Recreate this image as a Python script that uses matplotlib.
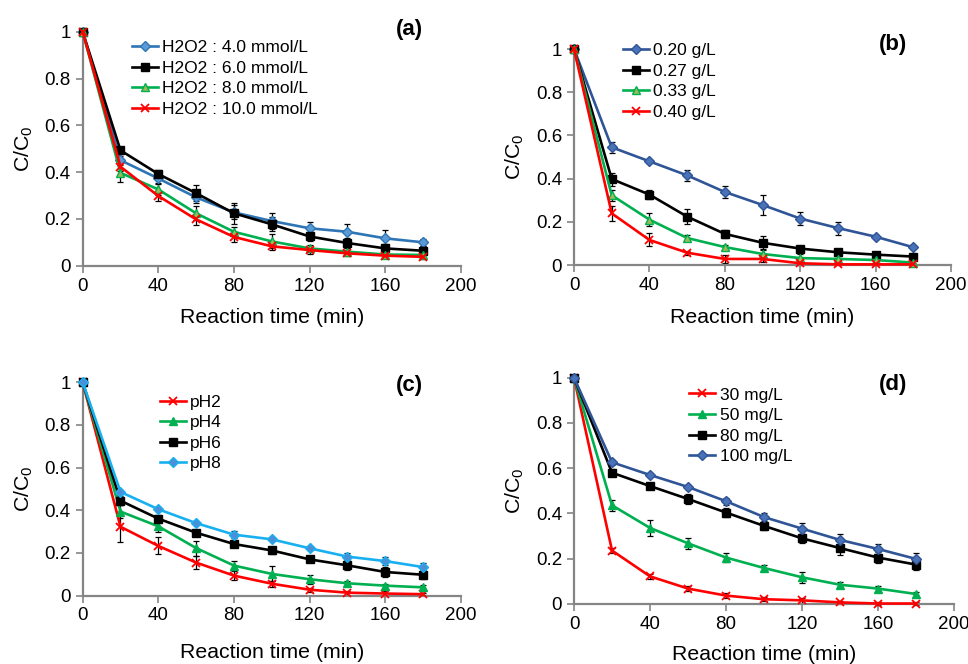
import numpy as np
import matplotlib
matplotlib.use('Agg')
import matplotlib.pyplot as plt

# ---- data ----
t = [0, 20, 40, 60, 80, 100, 120, 140, 160, 180]

# (a) H2O2 dosage
a_labels = ['H2O2 : 4.0 mmol/L', 'H2O2 : 6.0 mmol/L', 'H2O2 : 8.0 mmol/L', 'H2O2 : 10.0 mmol/L']
a_h4 = [1, 0.451, 0.373, 0.292, 0.228, 0.191, 0.160, 0.145, 0.117, 0.100]
a_h6 = [1, 0.493, 0.392, 0.310, 0.224, 0.177, 0.125, 0.097, 0.074, 0.064]
a_h8 = [1, 0.397, 0.326, 0.224, 0.145, 0.104, 0.074, 0.060, 0.048, 0.046]
a_h10 = [1, 0.423, 0.298, 0.198, 0.123, 0.083, 0.067, 0.053, 0.043, 0.038]
a_e4 = [0, 0.02, 0.02, 0.025, 0.03, 0.035, 0.025, 0.035, 0.035, 0.015]
a_e6 = [0, 0.015, 0.015, 0.035, 0.045, 0.03, 0.02, 0.02, 0.02, 0.02]
a_e8 = [0, 0.04, 0.025, 0.03, 0.02, 0.03, 0.015, 0.015, 0.01, 0.01]
a_e10 = [0, 0.02, 0.02, 0.025, 0.02, 0.015, 0.015, 0.01, 0.01, 0.01]

# (b) catalyst dosage
b_labels = ['0.20 g/L', '0.27 g/L', '0.33 g/L', '0.40 g/L']
b_020 = [1, 0.545, 0.480, 0.415, 0.338, 0.278, 0.215, 0.171, 0.131, 0.082]
b_027 = [1, 0.398, 0.326, 0.224, 0.144, 0.103, 0.076, 0.059, 0.048, 0.039]
b_033 = [1, 0.323, 0.210, 0.125, 0.083, 0.051, 0.032, 0.028, 0.023, 0.011]
b_040 = [1, 0.239, 0.116, 0.057, 0.028, 0.028, 0.008, 0.003, 0.003, 0.003]
b_e020 = [0, 0.025, 0.01, 0.025, 0.03, 0.045, 0.03, 0.03, 0.01, 0.01]
b_e027 = [0, 0.03, 0.02, 0.035, 0.02, 0.03, 0.01, 0.01, 0.01, 0.01]
b_e033 = [0, 0.025, 0.03, 0.015, 0.01, 0.02, 0.02, 0.015, 0.015, 0.01]
b_e040 = [0, 0.035, 0.03, 0.01, 0.02, 0.015, 0.01, 0.005, 0.005, 0.005]

# (c) pH
c_labels = ['pH2', 'pH4', 'pH6', 'pH8']
c_ph2 = [1, 0.323, 0.233, 0.155, 0.094, 0.056, 0.028, 0.014, 0.010, 0.007]
c_ph4 = [1, 0.394, 0.325, 0.223, 0.141, 0.102, 0.077, 0.058, 0.047, 0.039]
c_ph6 = [1, 0.445, 0.361, 0.295, 0.242, 0.212, 0.170, 0.142, 0.111, 0.098]
c_ph8 = [1, 0.486, 0.405, 0.340, 0.286, 0.264, 0.222, 0.183, 0.162, 0.134]
c_e2 = [0, 0.07, 0.04, 0.03, 0.02, 0.015, 0.01, 0.01, 0.01, 0.005]
c_e4 = [0, 0.03, 0.025, 0.035, 0.02, 0.035, 0.02, 0.01, 0.01, 0.01]
c_e6 = [0, 0.02, 0.015, 0.015, 0.015, 0.015, 0.01, 0.02, 0.025, 0.02]
c_e8 = [0, 0.01, 0.01, 0.01, 0.015, 0.01, 0.01, 0.015, 0.02, 0.02]

# (d) initial dye concentration
d_labels = ['30 mg/L', '50 mg/L', '80 mg/L', '100 mg/L']
d_30 = [1, 0.236, 0.122, 0.068, 0.037, 0.021, 0.016, 0.007, 0.002, 0.002]
d_50 = [1, 0.436, 0.336, 0.268, 0.205, 0.159, 0.118, 0.085, 0.068, 0.044]
d_80 = [1, 0.580, 0.521, 0.464, 0.404, 0.345, 0.290, 0.247, 0.205, 0.174]
d_100 = [1, 0.626, 0.570, 0.517, 0.454, 0.384, 0.333, 0.283, 0.243, 0.199]
d_e30 = [0, 0.01, 0.01, 0.01, 0.01, 0.01, 0.01, 0.005, 0.005, 0.005]
d_e50 = [0, 0.025, 0.035, 0.025, 0.02, 0.015, 0.025, 0.012, 0.01, 0.01]
d_e80 = [0, 0.015, 0.015, 0.02, 0.02, 0.02, 0.02, 0.03, 0.025, 0.025]
d_e100 = [0, 0.01, 0.01, 0.01, 0.015, 0.02, 0.025, 0.025, 0.02, 0.025]

# ---- styles ----
plt.rcParams['font.family'] = ['Liberation Sans', 'DejaVu Sans']
axgrey = '#858585'
blue = '#2E75B6'
dblue = '#2F5597'
cyan = '#18B0F0'
green = '#00B050'
red = '#FF0000'
black = '#000000'

sty = {
    'blue':  dict(color=blue, marker='D', mfc='#5B9BD5', mec=blue, ms=5),
    'dblue': dict(color=dblue, marker='D', mfc='#4A72B8', mec=dblue, ms=5),
    'cyan':  dict(color=cyan, marker='D', mfc='#4A90D9', mec=cyan, ms=5),
    'black': dict(color=black, marker='s', mfc=black, mec=black, ms=5.5),
    'greenO': dict(color=green, marker='^', mfc='#9BBB59', mec=green, ms=6),
    'green': dict(color=green, marker='^', mfc=green, mec=green, ms=6),
    'red':   dict(color=red, marker='x', mfc=red, mec=red, ms=6, mew=1.3),
}

panels = [
    # rect, tag, tag pos, legend anchor, xlabel pad, series
    ([0.0854, 0.5998, 0.3908, 0.3524], '(a)', (0.865, 1.01), (0.13, 0.965), 10,
     [(a_h4, a_e4, 'blue', a_labels[0]), (a_h6, a_e6, 'black', a_labels[1]),
      (a_h8, a_e8, 'greenO', a_labels[2]), (a_h10, a_e10, 'red', a_labels[3])]),
    ([0.593, 0.6009, 0.3895, 0.3253], '(b)', (0.847, 1.022), (0.13, 1.027), 10,
     [(b_020, b_e020, 'dblue', b_labels[0]), (b_027, b_e027, 'black', b_labels[1]),
      (b_033, b_e033, 'greenO', b_labels[2]), (b_040, b_e040, 'red', b_labels[3])]),
    ([0.0854, 0.1029, 0.3908, 0.3214], '(c)', (0.865, 0.983), (0.204, 0.943), 13,
     [(c_ph2, c_e2, 'red', c_labels[0]), (c_ph4, c_e4, 'green', c_labels[1]),
      (c_ph6, c_e6, 'black', c_labels[2]), (c_ph8, c_e8, 'cyan', c_labels[3])]),
    ([0.593, 0.0904, 0.3926, 0.3408], '(d)', (0.840, 0.971), (0.303, 0.957), 8.5,
     [(d_30, d_e30, 'red', d_labels[0]), (d_50, d_e50, 'green', d_labels[1]),
      (d_80, d_e80, 'black', d_labels[2]), (d_100, d_e100, 'dblue', d_labels[3])]),
]

fig = plt.figure(figsize=(9.68, 6.64), dpi=100)

for rect, tag, tagpos, legpos, xpad, series in panels:
    ax = fig.add_axes(rect)
    for y, e, key, lab in series:
        s = sty[key]
        ax.errorbar(t, y, yerr=e, fmt='none', ecolor=black, elinewidth=0.9,
                    capsize=2.5, capthick=0.9, clip_on=False, zorder=2)
        ax.plot(t, y, lw=1.9, label=lab, clip_on=False, zorder=3, **s)
    ax.set_xlim(0, 200)
    ax.set_ylim(0, 1)
    ax.set_xticks(np.arange(0, 201, 40))
    ax.set_yticks(np.arange(0, 1.01, 0.2))
    ax.set_yticklabels(['0', '0.2', '0.4', '0.6', '0.8', '1'])
    ax.spines['top'].set_visible(False)
    ax.spines['right'].set_visible(False)
    for sp in ['left', 'bottom']:
        ax.spines[sp].set_color(axgrey)
        ax.spines[sp].set_linewidth(1.6)
    ax.tick_params(axis='both', colors=axgrey, labelcolor='black', labelsize=13.5,
                   width=1.2, length=5, direction='out')
    ax.set_xlabel('Reaction time (min)', fontsize=15.3, labelpad=xpad)
    ax.set_ylabel(r'C/C$_{\mathregular{0}}$', fontsize=15.3, labelpad=7)
    ax.text(tagpos[0], tagpos[1], tag, transform=ax.transAxes, fontsize=16,
            fontweight='bold', ha='center', va='center')
    leg = ax.legend(loc='upper left', bbox_to_anchor=legpos, frameon=False,
                    fontsize=12.5, handlelength=1.5, handletextpad=0.25,
                    labelspacing=0.31, borderaxespad=0, borderpad=0)

fig.savefig('out.png', dpi=100)
